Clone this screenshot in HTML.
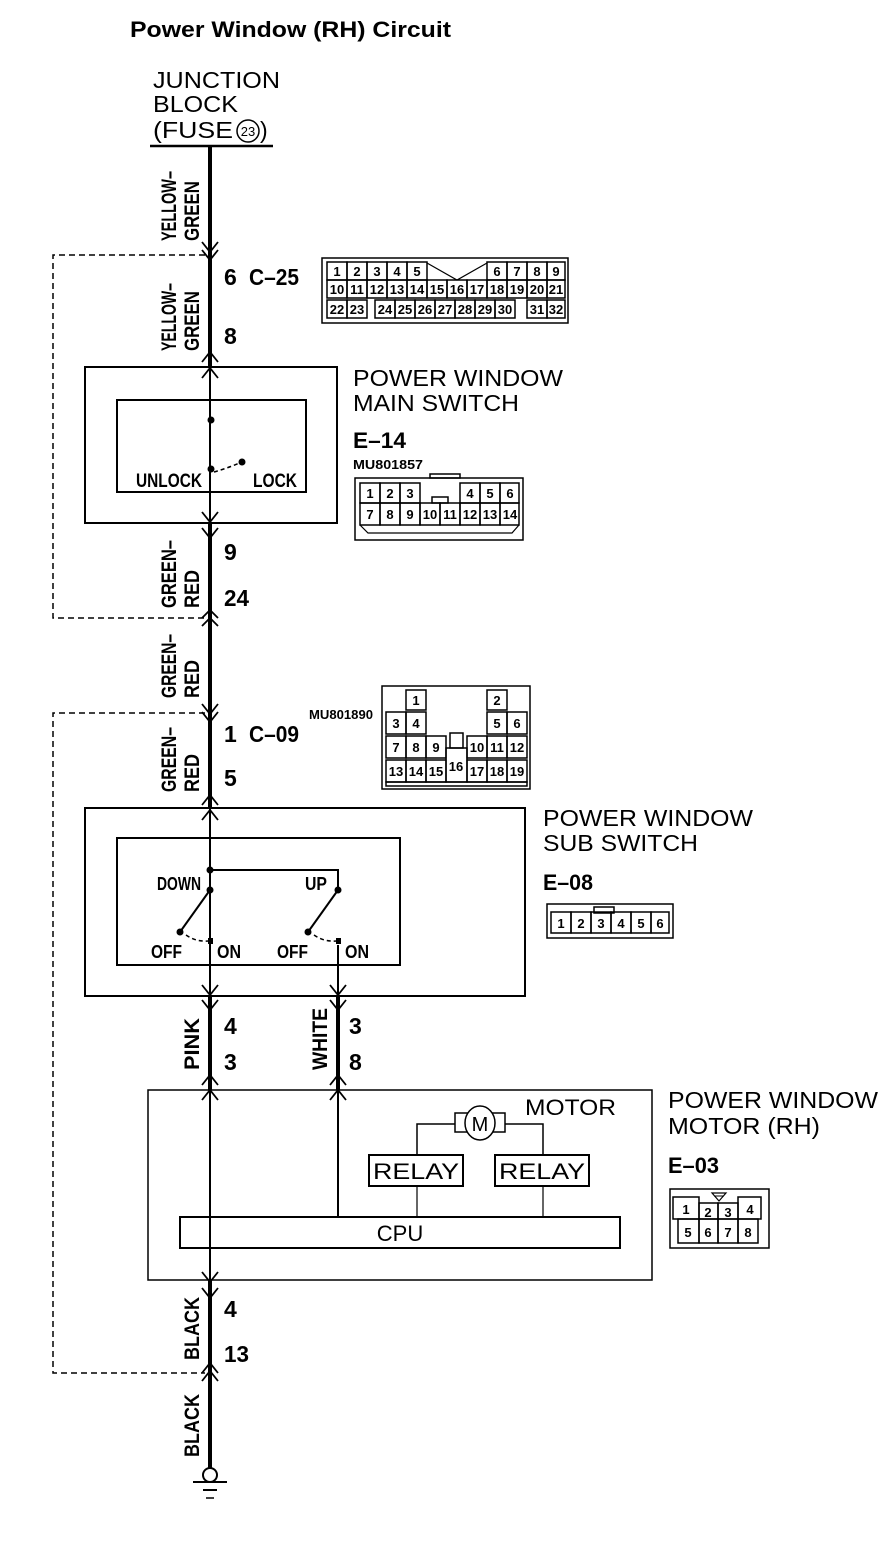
<!DOCTYPE html>
<html><head><meta charset="utf-8"><style>
html,body{margin:0;padding:0;background:#fff}
svg{display:block}
text{font-family:"Liberation Sans",sans-serif;fill:#000}
.b{font-weight:bold}
.n{font-family:"Liberation Sans",sans-serif;font-weight:bold}
.c rect{fill:none;stroke:#000;stroke-width:1.5}
.c text{font-family:"Liberation Sans",sans-serif;font-weight:bold;font-size:13px;text-anchor:middle}
</style></head><body>
<svg width="896" height="1554" viewBox="0 0 896 1554" xmlns="http://www.w3.org/2000/svg">
<text x="130" y="37" class="b" font-size="22" textLength="321" lengthAdjust="spacingAndGlyphs">Power Window (RH) Circuit</text>
<text x="153" y="88" font-size="23" textLength="127" lengthAdjust="spacingAndGlyphs">JUNCTION</text>
<text x="153" y="112" font-size="23" textLength="85" lengthAdjust="spacingAndGlyphs">BLOCK</text>
<text x="153" y="138" font-size="23" textLength="80" lengthAdjust="spacingAndGlyphs">(FUSE</text>
<circle cx="248" cy="131" r="11" fill="none" stroke="#000" stroke-width="1.5"/>
<text x="248" y="136" font-size="13" text-anchor="middle">23</text>
<text x="260" y="138" font-size="23">)</text>
<line x1="150" y1="146" x2="273" y2="146" stroke="#000" stroke-width="2.5"/>

<g stroke="#000" fill="none">
<line x1="210" y1="146" x2="210" y2="367" stroke-width="4"/>
<line x1="210" y1="367" x2="210" y2="523" stroke-width="2"/>
<line x1="210" y1="523" x2="210" y2="808" stroke-width="4"/>
<line x1="210" y1="808" x2="210" y2="996" stroke-width="2"/>
<line x1="210" y1="996" x2="210" y2="1090" stroke-width="4"/>
<line x1="210" y1="1090" x2="210" y2="1280" stroke-width="2"/>
<line x1="210" y1="1280" x2="210" y2="1468" stroke-width="4"/>
<line x1="338" y1="996" x2="338" y2="1090" stroke-width="4"/>
<line x1="338" y1="945" x2="338" y2="996" stroke-width="2"/>
<line x1="338" y1="1090" x2="338" y2="1217" stroke-width="2"/>
<circle cx="210" cy="1475" r="7" stroke-width="2" fill="#fff"/>
<line x1="193" y1="1482" x2="227" y2="1482" stroke-width="2"/>
<line x1="203" y1="1490" x2="217" y2="1490" stroke-width="2"/>
<line x1="206" y1="1498" x2="214" y2="1498" stroke-width="1.5"/>
<polyline points="205,255 53,255 53,618 205,618" stroke-width="1.5" stroke-dasharray="6,4"/>
<polyline points="205,713 53,713 53,1373 205,1373" stroke-width="1.5" stroke-dasharray="6,4"/>
<g stroke-width="1.8">
<polyline points="202,242 210,252 218,242"/><polyline points="202,250 210,260 218,250"/>
<polyline points="202,362 210,352 218,362"/><polyline points="202,378 210,368 218,378"/>
<polyline points="202,512 210,522 218,512"/><polyline points="202,528 210,538 218,528"/>
<polyline points="202,618 210,610 218,618"/><polyline points="202,626 210,618 218,626"/>
<polyline points="202,704 210,714 218,704"/><polyline points="202,712 210,722 218,712"/>
<polyline points="202,805 210,795 218,805"/><polyline points="202,820 210,810 218,820"/>
<polyline points="202,985 210,995 218,985"/><polyline points="202,1000 210,1010 218,1000"/>
<polyline points="330,985 338,995 346,985"/><polyline points="330,1000 338,1010 346,1000"/>
<polyline points="202,1085 210,1075 218,1085"/><polyline points="202,1100 210,1090 218,1100"/>
<polyline points="330,1085 338,1075 346,1085"/><polyline points="330,1100 338,1090 346,1100"/>
<polyline points="202,1272 210,1282 218,1272"/><polyline points="202,1288 210,1298 218,1288"/>
<polyline points="202,1373 210,1363 218,1373"/><polyline points="202,1381 210,1371 218,1381"/>
</g>
<rect x="85" y="367" width="252" height="156" stroke-width="2"/>
<rect x="117" y="400" width="189" height="92" stroke-width="2"/>
<path d="M214,472 Q228,468 242,462" stroke-width="1.5" stroke-dasharray="4,3"/>
<rect x="85" y="808" width="440" height="188" stroke-width="2"/>
<rect x="117" y="838" width="283" height="127" stroke-width="2"/>
<polyline points="210,870 338,870 338,890" stroke-width="2"/>
<line x1="210" y1="890" x2="180" y2="932" stroke-width="2"/>
<line x1="338" y1="890" x2="308" y2="932" stroke-width="2"/>
<path d="M186,935 Q196,942 208,941" stroke-width="1.5" stroke-dasharray="4,3"/>
<path d="M314,935 Q324,942 336,941" stroke-width="1.5" stroke-dasharray="4,3"/>
<rect x="148" y="1090" width="504" height="190" stroke-width="1.5"/>
<rect x="180" y="1217" width="440" height="31" stroke-width="2"/>
<rect x="369" y="1155" width="94" height="31" stroke-width="2"/>
<rect x="495" y="1155" width="94" height="31" stroke-width="2"/>
<polyline points="417,1155 417,1124 456,1124" stroke-width="1.5"/>
<polyline points="504,1124 543,1124 543,1155" stroke-width="1.5"/>
<line x1="417" y1="1186" x2="417" y2="1217" stroke-width="1.2"/>
<line x1="543" y1="1186" x2="543" y2="1217" stroke-width="1.2"/>
<rect x="455" y="1113" width="50" height="19" stroke-width="1.5" fill="#fff"/>
<ellipse cx="480" cy="1123" rx="15" ry="17" stroke-width="1.5" fill="#fff"/>
</g>
<g fill="#000">
<circle cx="211" cy="420" r="3.5"/><circle cx="211" cy="469" r="3.5"/><circle cx="242" cy="462" r="3.5"/>
<circle cx="210" cy="870" r="3.5"/><circle cx="210" cy="890" r="3.5"/><circle cx="338" cy="890" r="3.5"/>
<circle cx="180" cy="932" r="3.5"/><circle cx="308" cy="932" r="3.5"/>
<rect x="208" y="938" width="5" height="6"/><rect x="336" y="938" width="5" height="6"/>
</g>
<text x="480" y="1131" font-size="20" text-anchor="middle">M</text>

<g class="n">
<text x="136" y="487" font-size="19" textLength="66" lengthAdjust="spacingAndGlyphs">UNLOCK</text>
<text x="253" y="487" font-size="19" textLength="44" lengthAdjust="spacingAndGlyphs">LOCK</text>
<text x="157" y="890" font-size="18" textLength="44" lengthAdjust="spacingAndGlyphs">DOWN</text>
<text x="305" y="890" font-size="18" textLength="22" lengthAdjust="spacingAndGlyphs">UP</text>
<text x="151" y="958" font-size="18" textLength="31" lengthAdjust="spacingAndGlyphs">OFF</text>
<text x="217" y="958" font-size="18" textLength="24" lengthAdjust="spacingAndGlyphs">ON</text>
<text x="277" y="958" font-size="18" textLength="31" lengthAdjust="spacingAndGlyphs">OFF</text>
<text x="345" y="958" font-size="18" textLength="24" lengthAdjust="spacingAndGlyphs">ON</text>
</g>
<text x="373" y="1179" font-size="22" textLength="86" lengthAdjust="spacingAndGlyphs">RELAY</text>
<text x="499" y="1179" font-size="22" textLength="86" lengthAdjust="spacingAndGlyphs">RELAY</text>
<text x="400" y="1241" font-size="22" text-anchor="middle">CPU</text>
<text x="525" y="1115" font-size="22" textLength="91" lengthAdjust="spacingAndGlyphs">MOTOR</text>

<text x="353" y="386" font-size="23" textLength="210" lengthAdjust="spacingAndGlyphs">POWER WINDOW</text>
<text x="353" y="411" font-size="23" textLength="166" lengthAdjust="spacingAndGlyphs">MAIN SWITCH</text>
<text x="353" y="448" class="n" font-size="22" textLength="53" lengthAdjust="spacingAndGlyphs">E–14</text>
<text x="353" y="469" class="n" font-size="13" textLength="70" lengthAdjust="spacingAndGlyphs">MU801857</text>
<text x="543" y="826" font-size="23" textLength="210" lengthAdjust="spacingAndGlyphs">POWER WINDOW</text>
<text x="543" y="851" font-size="23" textLength="155" lengthAdjust="spacingAndGlyphs">SUB SWITCH</text>
<text x="543" y="890" class="n" font-size="22" textLength="50" lengthAdjust="spacingAndGlyphs">E–08</text>
<text x="668" y="1108" font-size="23" textLength="210" lengthAdjust="spacingAndGlyphs">POWER WINDOW</text>
<text x="668" y="1134" font-size="23" textLength="152" lengthAdjust="spacingAndGlyphs">MOTOR (RH)</text>
<text x="668" y="1173" class="n" font-size="22" textLength="51" lengthAdjust="spacingAndGlyphs">E–03</text>
<text x="309" y="719" class="n" font-size="13" textLength="64" lengthAdjust="spacingAndGlyphs">MU801890</text>

<g class="n" font-size="23">
<text x="224" y="285">6</text><text x="249" y="285" textLength="50" lengthAdjust="spacingAndGlyphs">C–25</text>
<text x="224" y="344">8</text>
<text x="224" y="560">9</text>
<text x="224" y="606" textLength="25" lengthAdjust="spacingAndGlyphs">24</text>
<text x="224" y="742">1</text><text x="249" y="742" textLength="50" lengthAdjust="spacingAndGlyphs">C–09</text>
<text x="224" y="786">5</text>
<text x="224" y="1034">4</text><text x="224" y="1070">3</text>
<text x="349" y="1034">3</text><text x="349" y="1070">8</text>
<text x="224" y="1317">4</text><text x="224" y="1362" textLength="25" lengthAdjust="spacingAndGlyphs">13</text>
</g>

<g class="n" font-size="21" lengthAdjust="spacingAndGlyphs">
<text transform="translate(176,241) rotate(-90)" textLength="70" lengthAdjust="spacingAndGlyphs">YELLOW–</text>
<text transform="translate(199,241) rotate(-90)" textLength="60" lengthAdjust="spacingAndGlyphs">GREEN</text>
<text transform="translate(176,351) rotate(-90)" textLength="68" lengthAdjust="spacingAndGlyphs">YELLOW–</text>
<text transform="translate(199,351) rotate(-90)" textLength="60" lengthAdjust="spacingAndGlyphs">GREEN</text>
<text transform="translate(176,608) rotate(-90)" textLength="68" lengthAdjust="spacingAndGlyphs">GREEN–</text>
<text transform="translate(199,608) rotate(-90)" textLength="38" lengthAdjust="spacingAndGlyphs">RED</text>
<text transform="translate(176,698) rotate(-90)" textLength="64" lengthAdjust="spacingAndGlyphs">GREEN–</text>
<text transform="translate(199,698) rotate(-90)" textLength="38" lengthAdjust="spacingAndGlyphs">RED</text>
<text transform="translate(176,792) rotate(-90)" textLength="65" lengthAdjust="spacingAndGlyphs">GREEN–</text>
<text transform="translate(199,792) rotate(-90)" textLength="38" lengthAdjust="spacingAndGlyphs">RED</text>
<text transform="translate(199,1070) rotate(-90)" textLength="52" lengthAdjust="spacingAndGlyphs">PINK</text>
<text transform="translate(327,1070) rotate(-90)" textLength="62" lengthAdjust="spacingAndGlyphs">WHITE</text>
<text transform="translate(199,1360) rotate(-90)" textLength="63" lengthAdjust="spacingAndGlyphs">BLACK</text>
<text transform="translate(199,1457) rotate(-90)" textLength="63" lengthAdjust="spacingAndGlyphs">BLACK</text>
</g>

<g class="c">
<rect x="322" y="258" width="246" height="65"/>
<rect x="327" y="262" width="20" height="18"/><text x="337" y="276">1</text>
<rect x="347" y="262" width="20" height="18"/><text x="357" y="276">2</text>
<rect x="367" y="262" width="20" height="18"/><text x="377" y="276">3</text>
<rect x="387" y="262" width="20" height="18"/><text x="397" y="276">4</text>
<rect x="407" y="262" width="20" height="18"/><text x="417" y="276">5</text>
<rect x="487" y="262" width="20" height="18"/><text x="497" y="276">6</text>
<rect x="507" y="262" width="20" height="18"/><text x="517" y="276">7</text>
<rect x="527" y="262" width="20" height="18"/><text x="537" y="276">8</text>
<rect x="547" y="262" width="18" height="18"/><text x="556" y="276">9</text>
<rect x="327" y="280" width="20" height="18"/><text x="337" y="294">10</text>
<rect x="347" y="280" width="20" height="18"/><text x="357" y="294">11</text>
<rect x="367" y="280" width="20" height="18"/><text x="377" y="294">12</text>
<rect x="387" y="280" width="20" height="18"/><text x="397" y="294">13</text>
<rect x="407" y="280" width="20" height="18"/><text x="417" y="294">14</text>
<rect x="427" y="280" width="20" height="18"/><text x="437" y="294">15</text>
<rect x="447" y="280" width="20" height="18"/><text x="457" y="294">16</text>
<rect x="467" y="280" width="20" height="18"/><text x="477" y="294">17</text>
<rect x="487" y="280" width="20" height="18"/><text x="497" y="294">18</text>
<rect x="507" y="280" width="20" height="18"/><text x="517" y="294">19</text>
<rect x="527" y="280" width="20" height="18"/><text x="537" y="294">20</text>
<rect x="547" y="280" width="18" height="18"/><text x="556" y="294">21</text>
<rect x="327" y="300" width="20" height="18"/><text x="337" y="314">22</text>
<rect x="347" y="300" width="20" height="18"/><text x="357" y="314">23</text>
<rect x="375" y="300" width="20" height="18"/><text x="385" y="314">24</text>
<rect x="395" y="300" width="20" height="18"/><text x="405" y="314">25</text>
<rect x="415" y="300" width="20" height="18"/><text x="425" y="314">26</text>
<rect x="435" y="300" width="20" height="18"/><text x="445" y="314">27</text>
<rect x="455" y="300" width="20" height="18"/><text x="465" y="314">28</text>
<rect x="475" y="300" width="20" height="18"/><text x="485" y="314">29</text>
<rect x="495" y="300" width="20" height="18"/><text x="505" y="314">30</text>
<rect x="527" y="300" width="20" height="18"/><text x="537" y="314">31</text>
<rect x="547" y="300" width="18" height="18"/><text x="556" y="314">32</text>
</g>
<polyline points="427,263 457,280 487,263" fill="none" stroke="#000" stroke-width="1.2"/>

<g class="c">
<rect x="355" y="478" width="168" height="62"/>
<rect x="430" y="474" width="30" height="4"/>
<rect x="360" y="483" width="20" height="20"/><text x="370" y="498">1</text>
<rect x="380" y="483" width="20" height="20"/><text x="390" y="498">2</text>
<rect x="400" y="483" width="20" height="20"/><text x="410" y="498">3</text>
<rect x="460" y="483" width="20" height="20"/><text x="470" y="498">4</text>
<rect x="480" y="483" width="20" height="20"/><text x="490" y="498">5</text>
<rect x="500" y="483" width="19" height="20"/><text x="510" y="498">6</text>
<rect x="360" y="503" width="20" height="22"/><text x="370" y="519">7</text>
<rect x="380" y="503" width="20" height="22"/><text x="390" y="519">8</text>
<rect x="400" y="503" width="20" height="22"/><text x="410" y="519">9</text>
<rect x="420" y="503" width="20" height="22"/><text x="430" y="519">10</text>
<rect x="440" y="503" width="20" height="22"/><text x="450" y="519">11</text>
<rect x="460" y="503" width="20" height="22"/><text x="470" y="519">12</text>
<rect x="480" y="503" width="20" height="22"/><text x="490" y="519">13</text>
<rect x="500" y="503" width="19" height="22"/><text x="510" y="519">14</text>
<rect x="432" y="497" width="16" height="6"/>
</g>
<polyline points="360,525 368,533 512,533 519,525" fill="none" stroke="#000" stroke-width="1.2"/>

<g class="c">
<rect x="382" y="686" width="148" height="103"/>
<rect x="406" y="690" width="20" height="20"/><text x="416" y="705">1</text>
<rect x="487" y="690" width="20" height="20"/><text x="497" y="705">2</text>
<rect x="386" y="712" width="20" height="22"/><text x="396" y="728">3</text>
<rect x="406" y="712" width="20" height="22"/><text x="416" y="728">4</text>
<rect x="487" y="712" width="20" height="22"/><text x="497" y="728">5</text>
<rect x="507" y="712" width="20" height="22"/><text x="517" y="728">6</text>
<rect x="386" y="736" width="20" height="22"/><text x="396" y="752">7</text>
<rect x="406" y="736" width="20" height="22"/><text x="416" y="752">8</text>
<rect x="426" y="736" width="20" height="22"/><text x="436" y="752">9</text>
<rect x="467" y="736" width="20" height="22"/><text x="477" y="752">10</text>
<rect x="487" y="736" width="20" height="22"/><text x="497" y="752">11</text>
<rect x="507" y="736" width="20" height="22"/><text x="517" y="752">12</text>
<rect x="386" y="760" width="20" height="22"/><text x="396" y="776">13</text>
<rect x="406" y="760" width="20" height="22"/><text x="416" y="776">14</text>
<rect x="426" y="760" width="20" height="22"/><text x="436" y="776">15</text>
<rect x="446" y="748" width="21" height="34"/><text x="456" y="771">16</text>
<rect x="467" y="760" width="20" height="22"/><text x="477" y="776">17</text>
<rect x="487" y="760" width="20" height="22"/><text x="497" y="776">18</text>
<rect x="507" y="760" width="20" height="22"/><text x="517" y="776">19</text>
<rect x="450" y="733" width="13" height="15"/>
<rect x="386" y="782" width="141" height="4"/>
</g>

<g class="c">
<rect x="547" y="904" width="126" height="34"/>
<rect x="594" y="907" width="20" height="6"/>
<rect x="551" y="912" width="20" height="21"/><text x="561" y="928">1</text>
<rect x="571" y="912" width="20" height="21"/><text x="581" y="928">2</text>
<rect x="591" y="912" width="20" height="21"/><text x="601" y="928">3</text>
<rect x="611" y="912" width="20" height="21"/><text x="621" y="928">4</text>
<rect x="631" y="912" width="20" height="21"/><text x="641" y="928">5</text>
<rect x="651" y="912" width="18" height="21"/><text x="660" y="928">6</text>
</g>

<g class="c">
<rect x="670" y="1189" width="99" height="59"/>
<rect x="673" y="1197" width="26" height="22"/><text x="686" y="1214">1</text>
<rect x="699" y="1203" width="19" height="16"/><text x="708" y="1217">2</text>
<rect x="718" y="1203" width="20" height="16"/><text x="728" y="1217">3</text>
<rect x="738" y="1197" width="23" height="22"/><text x="750" y="1214">4</text>
<rect x="678" y="1219" width="21" height="24"/><text x="688" y="1237">5</text>
<rect x="699" y="1219" width="19" height="24"/><text x="708" y="1237">6</text>
<rect x="718" y="1219" width="20" height="24"/><text x="728" y="1237">7</text>
<rect x="738" y="1219" width="20" height="24"/><text x="748" y="1237">8</text>
</g>
<polygon points="712,1193 726,1193 719,1201" fill="none" stroke="#000" stroke-width="1.2"/>
<line x1="714" y1="1196" x2="724" y2="1196" stroke="#000" stroke-width="1"/>
</svg>
</body></html>
